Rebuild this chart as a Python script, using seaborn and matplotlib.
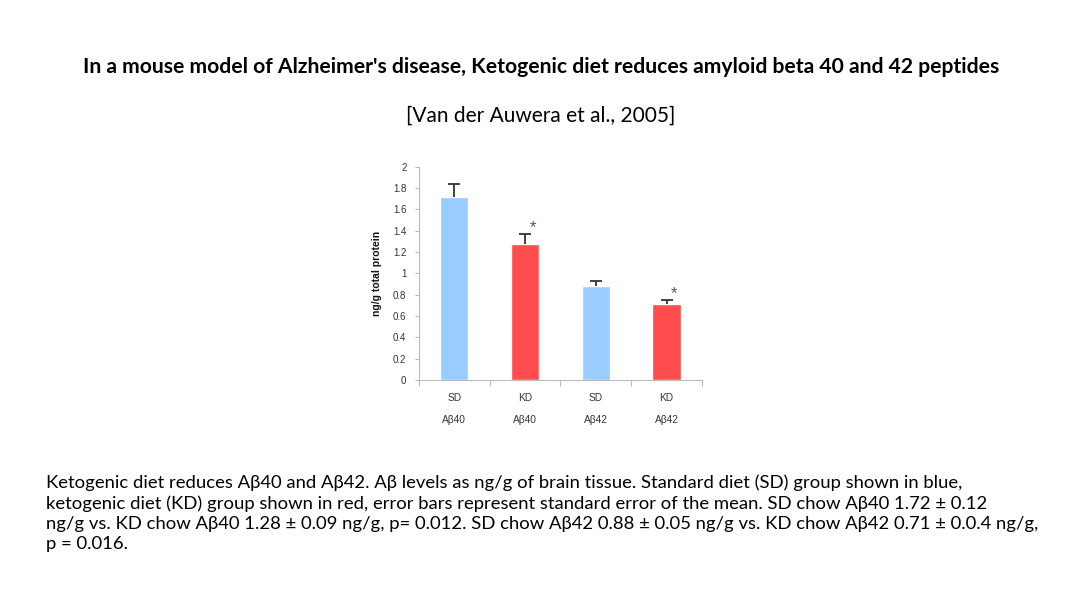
import matplotlib
matplotlib.use("Agg")
import matplotlib.pyplot as plt
import seaborn as sns
import pandas as pd
import numpy as np

# ---- data ----
diets = ["SD", "KD", "SD", "KD"]
peptides = ["Aβ40", "Aβ40", "Aβ42", "Aβ42"]
means = [1.72, 1.28, 0.88, 0.71]
sems = [0.12, 0.09, 0.05, 0.04]
significant = [False, True, False, True]
yticks = [0, 0.2, 0.4, 0.6, 0.8, 1, 1.2, 1.4, 1.6, 1.8, 2]
ytick_labels = ["0", "0.2", "0.4", "0.6", "0.8", "1", "1.2", "1.4", "1.6", "1.8", "2"]

title = "In a mouse model of Alzheimer's disease, Ketogenic diet reduces amyloid beta 40 and 42 peptides"
subtitle = "[Van der Auwera et al., 2005]"
caption = ("Ketogenic diet reduces Aβ40 and Aβ42. Aβ levels as ng/g of brain tissue. Standard diet (SD) group shown in blue,\n"
           "ketogenic diet (KD) group shown in red, error bars represent standard error of the mean. SD chow Aβ40 1.72 ± 0.12\n"
           "ng/g vs. KD chow Aβ40 1.28 ± 0.09 ng/g, p= 0.012. SD chow Aβ42 0.88 ± 0.05 ng/g vs. KD chow Aβ42 0.71 ± 0.0.4 ng/g,\n"
           "p = 0.016.")

colors = {"SD": "#99CCFF", "KD": "#FF4D4D"}

sns.set_theme(style="white")
plt.rcParams["font.family"] = ["Liberation Sans", "DejaVu Sans"]

df = pd.DataFrame({
    "label": [f"{d}\n{p}" for d, p in zip(diets, peptides)],
    "diet": diets,
    "mean": means,
})

fig = plt.figure(figsize=(10.84, 6.10), dpi=100)
ax = fig.add_axes([0.3865, 0.377, 0.2611, 0.3497])

sns.barplot(data=df, x="label", y="mean", hue="diet", palette=colors,
            width=0.4, errorbar=None, legend=False, dodge=False, ax=ax,
            saturation=1)

xpos = np.arange(len(means))
_, caps, _ = ax.errorbar(xpos, means, yerr=[np.zeros(len(sems)), sems], fmt="none",
                         ecolor="#333333", elinewidth=1.3, capsize=4, capthick=1.3)
# keep only the upper cap
caps[0].set_visible(False)

for x, m, s, sig in zip(xpos, means, sems, significant):
    if sig:
        ax.text(x + 0.11, m + s + 0.06, "*", ha="center", va="center",
                fontsize=12, color="#555555")

ax.set_xlim(-0.5, len(means) - 0.5)
ax.set_ylim(0, 2)
ax.set_yticks(yticks)
ax.set_yticklabels(ytick_labels, fontsize=7, color="#333333")
ax.set_xlabel("")
ax.set_ylabel("ng/g total protein", fontsize=7.5, fontweight="bold", color="#111111", labelpad=8)

for lbl in ax.get_xticklabels():
    lbl.set_fontsize(7.3)
    lbl.set_color("#333333")
    lbl.set_linespacing(2.5)

ax.tick_params(axis="x", which="major", length=0, pad=9)
ax.set_xticks(np.arange(-0.5, len(means), 1.0), minor=True)
ax.tick_params(axis="x", which="minor", length=4, color="#bbbbbb", width=0.8, direction="out", bottom=True)
ax.tick_params(axis="y", length=3, color="#bbbbbb", width=0.8, direction="out", left=True, pad=6)

for side in ["top", "right"]:
    ax.spines[side].set_visible(False)
for side in ["left", "bottom"]:
    ax.spines[side].set_color("#bbbbbb")
    ax.spines[side].set_linewidth(0.8)

fig.text(0.499, 0.890, title, ha="center", va="center", fontsize=15.2,
         fontweight="bold", family=["Lato", "DejaVu Sans"], color="black")
fig.text(0.499, 0.811, subtitle, ha="center", va="center", fontsize=15,
         family=["Lato", "DejaVu Sans"], color="black")
fig.text(0.0425, 0.222, caption, ha="left", va="top", fontsize=13.3,
         family=["Lato", "DejaVu Sans"], color="black", linespacing=1.31)

fig.savefig("out.png", dpi=100, facecolor="white")
